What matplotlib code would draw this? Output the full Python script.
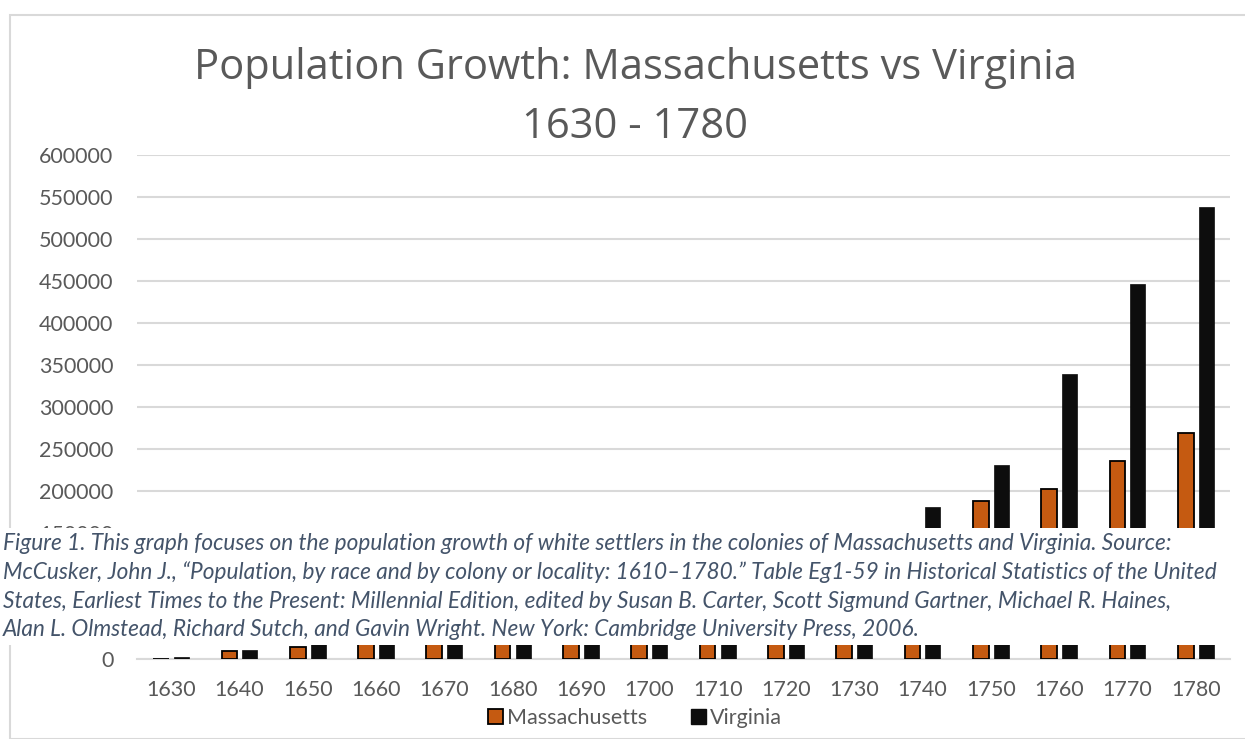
import matplotlib
matplotlib.use("Agg")
import numpy as np
import matplotlib.pyplot as plt
from matplotlib.patches import Rectangle

years = ["1630", "1640", "1650", "1660", "1670", "1680", "1690", "1700",
         "1710", "1720", "1730", "1740", "1750", "1760", "1770", "1780"]
massachusetts = [506, 8932, 14037, 20082, 30000, 39752, 49504, 55941,
                 62390, 91008, 114116, 151613, 188000, 202600, 235308, 268627]
virginia = [2500, 10442, 18731, 27020, 35309, 43596, 53046, 58560,
            78281, 87757, 114000, 180440, 231033, 339726, 447016, 538004]

title = "Population Growth: Massachusetts vs Virginia\n1630 - 1780"
caption = [
    "Figure 1. This graph focuses on the population growth of white settlers in the colonies of Massachusetts and Virginia. Source:",
    "McCusker, John J., \u201cPopulation, by race and by colony or locality: 1610\u20131780.\u201d Table Eg1-59 in Historical Statistics of the United",
    "States, Earliest Times to the Present: Millennial Edition, edited by Susan B. Carter, Scott Sigmund Gartner, Michael R. Haines,",
    "Alan L. Olmstead, Richard Sutch, and Gavin Wright. New York: Cambridge University Press, 2006.",
]

MASS_COLOR = "#C55A11"
VA_COLOR = "#0D0D0D"
TEXT = "#595959"
GRID = "#D9D9D9"
W, H = 1245, 739

plt.rcParams["font.family"] = ["Lato", "DejaVu Sans"]

fig = plt.figure(figsize=(W / 100, H / 100), dpi=100)

# chart frame
fig.patches.append(Rectangle((10 / W, 0), 1.2, 1 - 15 / H, transform=fig.transFigure,
                             fill=False, edgecolor=GRID, lw=1.5, zorder=0))

ax = fig.add_axes([137 / W, (H - 659) / H, (1230 - 137) / W, (659 - 155) / H])
x = np.arange(len(years))
ax.bar(x - 0.148, massachusetts, width=0.23, color=MASS_COLOR, edgecolor="black",
       linewidth=1.3, zorder=3)
ax.bar(x + 0.152, virginia, width=0.22, color=VA_COLOR, edgecolor=VA_COLOR,
       linewidth=0.5, zorder=3)

ax.set_xlim(-0.5, len(years) - 0.5)
ax.set_ylim(0, 600000)
ax.set_yticks(np.arange(0, 600001, 50000))
ax.set_xticks(x)
ax.set_xticklabels(years)
ax.yaxis.grid(True, color=GRID, lw=1.5)
ax.set_axisbelow(True)
for s in ["top", "right", "left"]:
    ax.spines[s].set_visible(False)
ax.spines["bottom"].set_color(GRID)
ax.spines["bottom"].set_linewidth(1.5)
ax.tick_params(axis="both", length=0, labelsize=15.5, labelcolor=TEXT)
ax.tick_params(axis="y", pad=17)
ax.tick_params(axis="x", pad=15)

t1, t2 = title.split("\n")
fig.text(635 / W, 1 - 68 / H, t1, ha="center", va="center",
         fontsize=30, color=TEXT, family=["Open Sans", "DejaVu Sans"])
fig.text(635 / W, 1 - 127 / H, t2, ha="center", va="center",
         fontsize=30, color=TEXT, family=["Open Sans", "DejaVu Sans"])

handles = [Rectangle((0, 0), 1, 1, facecolor=MASS_COLOR, edgecolor="black", lw=1.3),
           Rectangle((0, 0), 1, 1, facecolor=VA_COLOR, edgecolor=VA_COLOR)]
fig.legend(handles, ["Massachusetts", "Virginia"], loc="center",
           bbox_to_anchor=(635 / W, 1 - 718 / H), ncol=2, frameon=False,
           fontsize=15.5, labelcolor=TEXT, handlelength=0.7, handleheight=0.7,
           handletextpad=0.2, columnspacing=2.0)

# caption box pasted over the chart
fig.patches.append(Rectangle((0, 1 - 645 / H), 1, (645 - 528) / H, transform=fig.transFigure,
                             facecolor="white", edgecolor="none", zorder=5))
for i, line in enumerate(caption):
    fig.text(3 / W, 1 - (543 + 29 * i) / H, line, ha="left", va="center",
             fontsize=16.3, style="italic", color="#44546A", zorder=6)

fig.savefig("out.png", dpi=100)
